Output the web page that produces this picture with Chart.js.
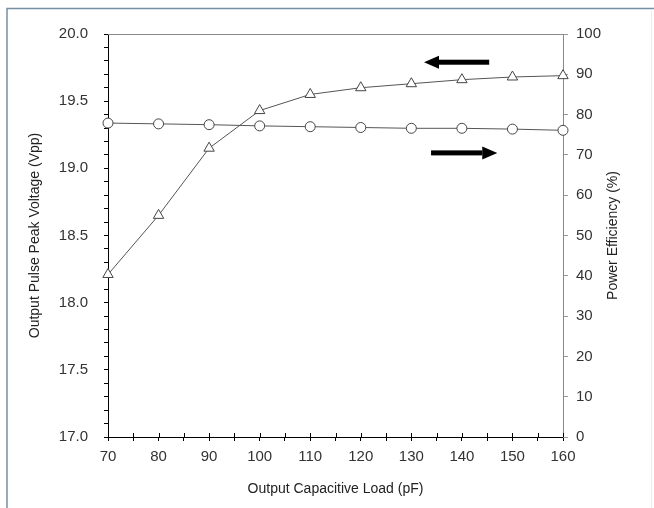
<!DOCTYPE html>
<html lang="en">
<head>
  <meta charset="UTF-8">
  <title>Output Pulse Peak Voltage / Power Efficiency</title>
  <script src="https://cdn.jsdelivr.net/npm/chart.js@4.4.7/dist/chart.umd.min.js"></script>
  <style>
    * { margin: 0; padding: 0; box-sizing: border-box; }
    body { background: #fff; width: 654px; height: 508px; overflow: hidden; }
    #wrap { position: relative; width: 654px; height: 508px; }
  </style>
</head>
<body>
  <div id="wrap"><canvas id="chart" width="654" height="508"></canvas></div>

  <script>
    // data
    const loads = [70, 80, 90, 100, 110, 120, 130, 140, 150, 160];
    const voltage = [18.21, 18.65, 19.15, 19.43, 19.55, 19.60, 19.63, 19.66, 19.68, 19.69];
    const efficiency = [77.9, 77.7, 77.5, 77.2, 77.0, 76.8, 76.6, 76.6, 76.4, 76.1];

    // arrows: [x from, x to, value, axis]
    const arrows = [
      [145.4, 132.5, 19.79, 'y'],
      [133.9, 147.0, 70.5, 'y1']
    ];

    const tickFont = { family: "'Liberation Sans', Arial, sans-serif", size: 15 };
    const titleFont = { family: "'Liberation Sans', Arial, sans-serif", size: 14 };

    // frame, top border, inner x ticks, arrows, right title
    const extras = {
      id: 'extras',
      beforeDraw(chart) {
        const c = chart.ctx;
        c.save();
        c.strokeStyle = '#7590a4';
        c.lineWidth = 1.5;
        c.beginPath();
        c.moveTo(7, 508); c.lineTo(7, 8.5); c.lineTo(654, 8.5);
        c.stroke();
        c.strokeStyle = '#ececec';
        c.lineWidth = 1;
        c.beginPath();
        c.moveTo(651.5, 9); c.lineTo(651.5, 508);
        c.stroke();
        c.restore();
      },
      afterDraw(chart) {
        const c = chart.ctx, a = chart.chartArea, sx = chart.scales.x;
        c.save();
        c.strokeStyle = '#888';
        c.lineWidth = 1;
        c.beginPath();
        c.moveTo(a.left, a.top + 0.5); c.lineTo(a.right, a.top + 0.5);
        c.stroke();
        c.strokeStyle = '#000';
        c.beginPath();
        sx.ticks.forEach(t => {
          const px = Math.round(sx.getPixelForValue(t.value)) + 0.5;
          c.moveTo(px, a.bottom); c.lineTo(px, a.bottom - 4);
        });
        c.stroke();
        c.fillStyle = '#000';
        arrows.forEach(([x0, x1, v, ax]) => {
          const p0 = sx.getPixelForValue(x0), p1 = sx.getPixelForValue(x1);
          const py = chart.scales[ax].getPixelForValue(v);
          const dir = p1 > p0 ? 1 : -1;
          const head = 15;
          c.fillRect(Math.min(p0, p1 - dir * head), py - 2.5, Math.abs(p1 - dir * head - p0), 5);
          c.beginPath();
          c.moveTo(p1, py);
          c.lineTo(p1 - dir * head, py - 6.5);
          c.lineTo(p1 - dir * head, py + 6.5);
          c.closePath();
          c.fill();
        });
        // right axis title reads bottom-to-top like the left one
        c.translate(613, (a.top + a.bottom) / 2);
        c.rotate(-Math.PI / 2);
        c.font = "14px 'Liberation Sans', Arial, sans-serif";
        c.fillStyle = '#222';
        c.textAlign = 'center';
        c.textBaseline = 'middle';
        c.fillText('Power Efficiency (%)', 0, 0);
        c.restore();
      }
    };

    new Chart(document.getElementById('chart'), {
      type: 'line',
      data: {
        labels: loads,
        datasets: [{
          label: 'Output Pulse Peak Voltage',
          data: loads.map((x, i) => ({ x: x, y: voltage[i] })),
          yAxisID: 'y',
          borderColor: '#555',
          borderWidth: 1,
          pointStyle: 'triangle',
          pointRadius: 6,
          pointBackgroundColor: '#fff',
          pointBorderColor: '#444',
          pointBorderWidth: 1,
          tension: 0
        }, {
          label: 'Power Efficiency',
          data: loads.map((x, i) => ({ x: x, y: efficiency[i] })),
          yAxisID: 'y1',
          borderColor: '#555',
          borderWidth: 1,
          pointStyle: 'circle',
          pointRadius: 5,
          pointBackgroundColor: '#fff',
          pointBorderColor: '#444',
          pointBorderWidth: 1,
          tension: 0
        }]
      },
      options: {
        responsive: false,
        animation: false,
        clip: false,
        layout: { padding: { top: 34, left: 0, right: 0, bottom: 0 } },
        plugins: { legend: { display: false }, tooltip: { enabled: false } },
        scales: {
          x: {
            type: 'linear',
            min: 70, max: 160,
            afterFit: s => { s.height = 71; },
            ticks: {
              stepSize: 5, autoSkip: false, maxRotation: 0, padding: 7,
              color: '#333', font: tickFont,
              callback: v => (v % 10 === 0 ? String(v) : '')
            },
            grid: { drawOnChartArea: false, tickLength: 4, color: '#000' },
            border: { color: '#000', width: 1 },
            title: {
              display: true, text: 'Output Capacitive Load (pF)',
              color: '#222', font: titleFont, padding: { top: 0, bottom: 10 }
            }
          },
          y: {
            position: 'left',
            min: 17, max: 20,
            afterFit: s => { s.width = 108; },
            ticks: {
              stepSize: 0.1, autoSkip: false, padding: 16,
              color: '#333', font: tickFont,
              callback: v => (Math.abs(v * 2 - Math.round(v * 2)) < 1e-6 ? v.toFixed(1) : '')
            },
            grid: { drawOnChartArea: false, tickLength: 4, color: '#000' },
            border: { color: '#000', width: 1 },
            title: {
              display: true, text: 'Output Pulse Peak Voltage (Vpp)',
              color: '#222', font: titleFont, padding: { top: 27, bottom: 0 }
            }
          },
          y1: {
            position: 'right',
            min: 0, max: 100,
            afterFit: s => { s.width = 91; },
            ticks: {
              stepSize: 10, autoSkip: false, padding: 8,
              color: '#333', font: tickFont
            },
            grid: { drawOnChartArea: false, tickLength: 5, color: '#999' },
            border: { color: '#888', width: 1 },
            title: { display: false }
          }
        }
      },
      plugins: [extras]
    });
  </script>
</body>
</html>
